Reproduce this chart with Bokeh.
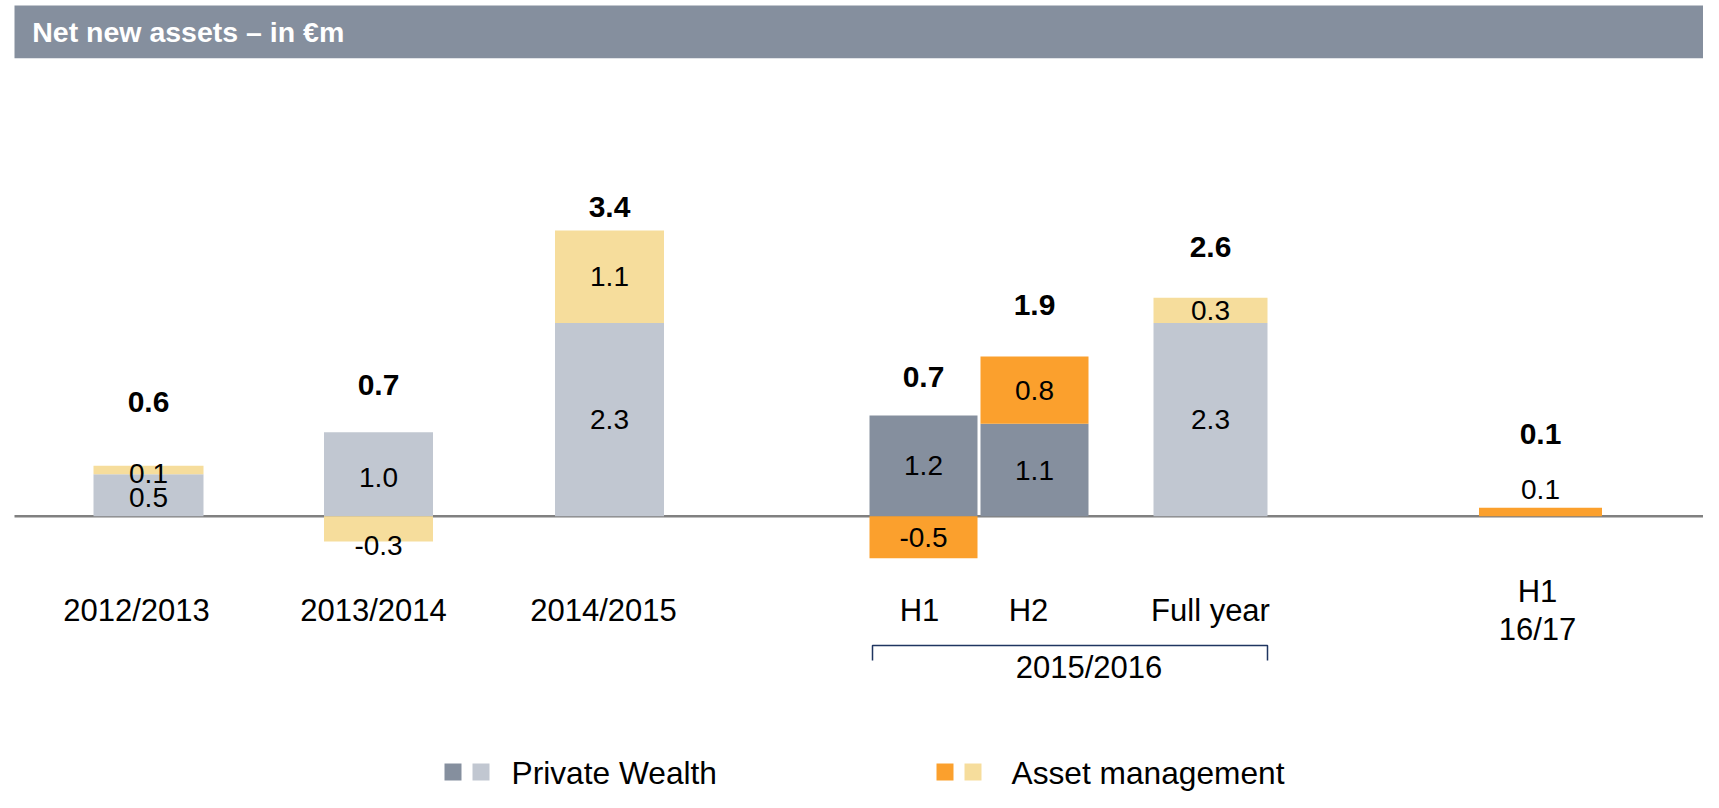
from bokeh.plotting import figure
from bokeh.models import Range1d
from bokeh.core.properties import value
from bokeh.embed import file_html
from bokeh.resources import INLINE

# ---------------- data ----------------
title_text = "Net new assets – in €m"
categories = ["2012/2013", "2013/2014", "2014/2015", "H1", "H2", "Full year", "H1\n16/17"]
private_wealth = [0.5, 1.0, 2.3, 1.2, 1.1, 2.3, 0.0]
asset_management = [0.1, -0.3, 1.1, -0.5, 0.8, 0.3, 0.1]
totals = [0.6, 0.7, 3.4, 0.7, 1.9, 2.6, 0.1]
half_year = [False, False, False, True, True, False, True]
group_label = "2015/2016"
group_members = ["H1", "H2", "Full year"]
legend_labels = ["Private Wealth", "Asset management"]

# ---------------- styles ----------------
PW_DARK, PW_LIGHT = "#858f9e", "#c1c7d1"
AM_DARK, AM_LIGHT = "#fba02d", "#f6dd9c"
TITLE_BG = "#858f9e"
AXIS_COL = "#808080"
BRACKET_COL = "#1f3560"
FONT = "Liberation Sans"

# ---------------- layout (page pixels) ----------------
W, H = 1703, 792
ORIGIN = 0
ZERO_Y = 515.7
PXU = 84.0
x_center = [148, 378, 609, 923, 1034, 1210, 1540]
bar_width = [110, 109, 109, 108, 108, 114, 123]
cat_dx = [-12, -5, -6, -4, -6, 0, -3]
pw_label_dy = [-2, -3, 0, 0, 0, 0, 0]
am_label_dy = [-3, -17, 0, 0, 0, 0, 23]
total_label_dy = [64, 47, 24, 38, 52, 51, 74]


def yv(page_y):
    return (ZERO_Y - page_y) / PXU


p = figure(width=W, height=H,
           x_range=Range1d(ORIGIN, ORIGIN + W),
           y_range=Range1d(yv(ORIGIN + H), yv(ORIGIN)),
           output_backend="svg", toolbar_location=None, min_border=0,
           x_axis_type=None, y_axis_type=None)
p.outline_line_color = None
p.background_fill_color = "white"
p.border_fill_color = "white"

# title bar
p.quad(left=[14], right=[1707], bottom=[yv(57.7)], top=[yv(5)],
       fill_color=TITLE_BG, line_color=None)
p.text(x=[31.7], y=[yv(31.5)], text=[title_text], text_font=value(FONT),
       text_font_style="bold", text_font_size="28.5px", text_color="white",
       text_baseline="middle", text_align="left")

# zero line
p.segment(x0=[14], y0=[0], x1=[1707], y1=[0], line_color=AXIS_COL, line_width=2.5)

# bars
pw_l, pw_r, pw_b, pw_t, pw_c = [], [], [], [], []
am_l, am_r, am_b, am_t, am_c = [], [], [], [], []
lab_x, lab_y, lab_t = [], [], []
tot_x, tot_y, tot_t = [], [], []
for i, cat in enumerate(categories):
    xc, w = x_center[i], bar_width[i]
    pw, am = private_wealth[i], asset_management[i]
    pos_top = 0.0
    neg_bot = 0.0
    if pw != 0:
        b, t = (0, pw) if pw > 0 else (pw, 0)
        pos_top = max(pos_top, t)
        neg_bot = min(neg_bot, b)
        pw_l.append(xc - w / 2); pw_r.append(xc + w / 2); pw_b.append(b); pw_t.append(t)
        pw_c.append(PW_DARK if half_year[i] else PW_LIGHT)
        lab_x.append(xc); lab_y.append((b + t) / 2 + pw_label_dy[i] / PXU)
        lab_t.append(f"{pw:.1f}")
    if am != 0:
        if am > 0:
            b, t = pos_top, pos_top + am
            pos_top = t
        else:
            b, t = neg_bot + am, neg_bot
            neg_bot = b
        am_l.append(xc - w / 2); am_r.append(xc + w / 2); am_b.append(b); am_t.append(t)
        am_c.append(AM_DARK if half_year[i] else AM_LIGHT)
        lab_x.append(xc); lab_y.append((b + t) / 2 + am_label_dy[i] / PXU)
        lab_t.append(f"{am:.1f}")
    tot_x.append(xc); tot_y.append(pos_top + total_label_dy[i] / PXU)
    tot_t.append(f"{totals[i]:.1f}")

p.quad(left=pw_l, right=pw_r, bottom=pw_b, top=pw_t, fill_color=pw_c, line_color=None)
p.quad(left=am_l, right=am_r, bottom=am_b, top=am_t, fill_color=am_c, line_color=None)

p.text(x=lab_x, y=lab_y, text=lab_t, text_font=value(FONT), text_font_size="28px",
       text_color="black", text_align="center", text_baseline="middle")
p.text(x=tot_x, y=tot_y, text=tot_t, text_font=value(FONT), text_font_size="30px",
       text_font_style="bold", text_color="black", text_align="center",
       text_baseline="middle")

# category labels
cx, cy, ct = [], [], []
for i, cat in enumerate(categories):
    lines = cat.split("\n")
    n = len(lines)
    for k, ln in enumerate(lines):
        cx.append(x_center[i] + cat_dx[i])
        cy.append(yv(610 + (k - (n - 1) / 2) * 38.5))
        ct.append(ln)
p.text(x=cx, y=cy, text=ct, text_font=value(FONT), text_font_size="31px",
       text_color="black", text_align="center", text_baseline="middle")

# group bracket
gi = [categories.index(g) for g in group_members]
gl = x_center[gi[0]] - bar_width[gi[0]] / 2 + 3
gr = x_center[gi[-1]] + bar_width[gi[-1]] / 2
p.line(x=[gl, gl, gr, gr], y=[yv(660), yv(645), yv(645), yv(660)],
       line_color=BRACKET_COL, line_width=1.5)
p.text(x=[(gl + gr) / 2 + 19], y=[yv(667)], text=[group_label], text_font=value(FONT),
       text_font_size="31px", text_color="black", text_align="center",
       text_baseline="middle")

# legend
leg_y0, leg_y1 = 763, 780
leg_sq_x = [[444, 472], [936, 964]]
leg_cols = [[PW_DARK, PW_LIGHT], [AM_DARK, AM_LIGHT]]
leg_txt_x = [511, 1011]
for j, lab in enumerate(legend_labels):
    xs = leg_sq_x[j]
    p.quad(left=xs, right=[x + 17 for x in xs], bottom=[yv(leg_y1)] * 2,
           top=[yv(leg_y0)] * 2, fill_color=leg_cols[j], line_color=None)
    p.text(x=[leg_txt_x[j]], y=[yv(772.5)], text=[lab], text_font=value(FONT),
           text_font_size="31.7px", text_color="black", text_align="left",
           text_baseline="middle")

open("out.html", "w").write(file_html(p, INLINE))
